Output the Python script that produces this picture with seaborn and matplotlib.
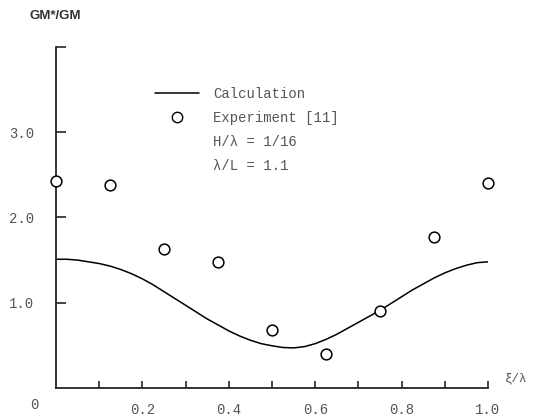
import pandas as pd
import matplotlib
matplotlib.use("Agg")
import matplotlib.pyplot as plt
import seaborn as sns
from matplotlib.lines import Line2D

# calculated curve
calc_x = [0.0, 0.025, 0.05, 0.075, 0.1, 0.125, 0.15, 0.175, 0.2, 0.225,
          0.25, 0.275, 0.3, 0.325, 0.35, 0.375, 0.4, 0.425, 0.45, 0.475,
          0.5, 0.525, 0.55, 0.575, 0.6, 0.625, 0.65, 0.675, 0.7, 0.725,
          0.75, 0.775, 0.8, 0.825, 0.85, 0.875, 0.9, 0.925, 0.95, 0.975, 1.0]
calc_y = [1.51, 1.51, 1.50, 1.48, 1.46, 1.43, 1.39, 1.34, 1.28, 1.21,
          1.13, 1.05, 0.97, 0.89, 0.81, 0.74, 0.67, 0.61, 0.56, 0.52,
          0.495, 0.475, 0.47, 0.485, 0.52, 0.57, 0.63, 0.70, 0.77, 0.84,
          0.91, 0.99, 1.07, 1.15, 1.22, 1.29, 1.35, 1.40, 1.44, 1.47, 1.48]

# experiment [11]
exp_x = [0.0, 0.125, 0.25, 0.375, 0.5, 0.625, 0.75, 0.875, 1.0]
exp_y = [2.43, 2.38, 1.63, 1.48, 0.68, 0.40, 0.90, 1.77, 2.40]

x_ticks = [0.1, 0.2, 0.3, 0.4, 0.5, 0.6, 0.7, 0.8, 0.9, 1.0]
x_labels = ["", "0.2", "", "0.4", "", "0.6", "", "0.8", "", "1.0"]
y_ticks = [1, 2, 3, 4]
y_labels = ["1.0", "2.0", "3.0", ""]

calc = pd.DataFrame({"x": calc_x, "y": calc_y})
exp = pd.DataFrame({"x": exp_x, "y": exp_y})

sns.set_style("ticks")
mono = ["Liberation Mono", "DejaVu Sans Mono"]
txt_col = "#555555"

fig = plt.figure(figsize=(5.45, 4.18), dpi=100)
ax = fig.add_axes([0.1028, 0.0718, 0.7926, 0.8158])

sns.lineplot(data=calc, x="x", y="y", ax=ax, color="black", linewidth=1.1)
sns.scatterplot(data=exp, x="x", y="y", ax=ax, marker="o", s=60,
                facecolor="white", edgecolor="black", linewidth=1.1,
                zorder=3, clip_on=False)

ax.set_xlim(0, 1.0)
ax.set_ylim(0, 4.0)
ax.set_xlabel("")
ax.set_ylabel("")
sns.despine(ax=ax)
for s in ["left", "bottom"]:
    ax.spines[s].set_linewidth(1.3)

ax.set_xticks(x_ticks)
ax.set_xticklabels(x_labels, family=mono, color=txt_col, fontsize=10)
ax.set_yticks(y_ticks)
ax.set_yticklabels(y_labels, family=mono, color=txt_col, fontsize=10)
ax.tick_params(axis="x", direction="in", length=5, width=1.2, pad=11)
ax.tick_params(axis="y", direction="in", length=7, width=1.2, pad=16)

# origin label, axis labels
ax.text(-0.05, -0.12, "0", transform=ax.transData, ha="center", va="top",
        family=mono, color=txt_col, fontsize=10)
ax.text(1.04, 0.04, "ξ/λ", ha="left", va="bottom", family=mono,
        color=txt_col, fontsize=9, clip_on=False)
fig.text(0.055, 0.962, "GM*/GM", ha="left", va="center", fontsize=9.5,
         fontweight="bold", family=["Liberation Sans", "DejaVu Sans"],
         color="#333333")

handles = [Line2D([], [], color="black", linewidth=1.1),
           Line2D([], [], marker="o", linestyle="none", markersize=7.5,
                  markerfacecolor="white", markeredgecolor="black"),
           Line2D([], [], linestyle="none"),
           Line2D([], [], linestyle="none")]
labels = ["Calculation", "Experiment [11]", "H/λ = 1/16", "λ/L = 1.1"]
ax.legend(handles, labels, loc="upper left", bbox_to_anchor=(0.2, 0.92),
          frameon=False, handlelength=3.2, handletextpad=1.0,
          labelspacing=0.72, prop={"family": mono, "size": 10},
          labelcolor=txt_col)

fig.savefig("out.png", dpi=100)
